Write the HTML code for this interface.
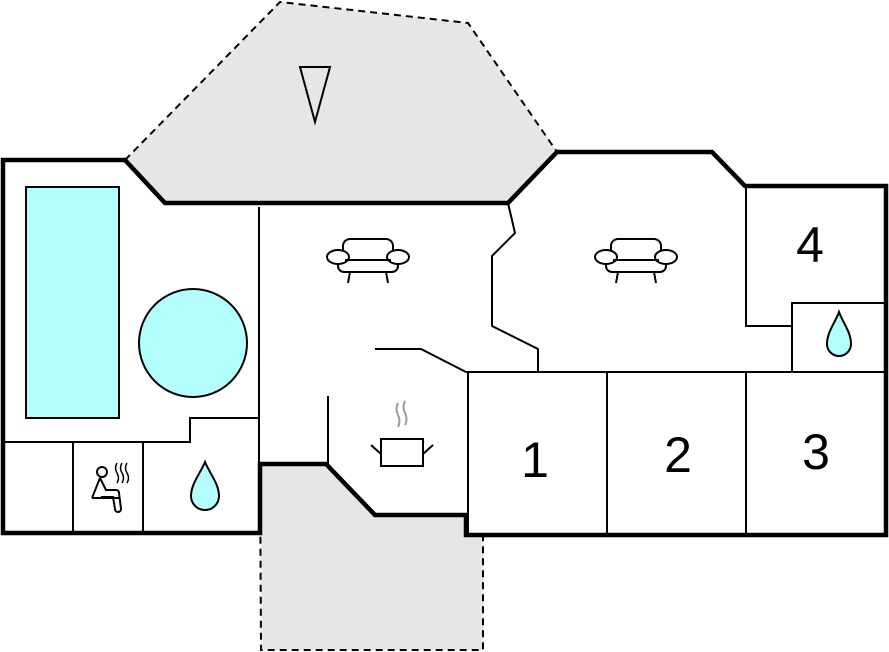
<!DOCTYPE html>
<html><head><style>body{margin:0;background:#fff}svg{display:block}</style></head><body>
<svg width="889" height="652" viewBox="0 0 889 652" xmlns="http://www.w3.org/2000/svg" font-family="Liberation Sans, sans-serif">
<polygon points="125,160 280,2 468,23 557,152 508,203 165,203" fill="#e6e6e6" stroke="#000" stroke-width="2" stroke-dasharray="7,5"/>
<polygon points="260,464 326,464 375,515 466,515 466,535 483,535 483,650 261,650" fill="#e6e6e6" stroke="#000" stroke-width="2" stroke-dasharray="7,5"/>
<polygon points="3,160 125,160 165,203 508,203 557,152 712,152 745,186 886,186 886,535 466,535 466,515 375,515 326,464 260,464 260,533 3,533" fill="#fff" stroke="none"/>
<g fill="none" stroke="#000" stroke-width="2">
<rect x="26" y="187" width="93" height="231" fill="#b3ffff"/>
<circle cx="193" cy="343" r="54" fill="#b3ffff"/>
<line x1="259" y1="207" x2="259" y2="464"/>
<polyline points="3,442 190,442 190,418 259,418"/>
<line x1="73" y1="442" x2="73" y2="533"/>
<line x1="143" y1="442" x2="143" y2="533"/>
<polyline points="375,349 421,349 466,372"/>
<line x1="468" y1="372" x2="468" y2="535"/>
<line x1="328" y1="396" x2="328" y2="464"/>
<polyline points="508,203 515,233 492,256 492,326 538,349 538,372"/>
<line x1="466" y1="372" x2="886" y2="372"/>
<line x1="607" y1="372" x2="607" y2="535"/>
<line x1="746" y1="372" x2="746" y2="535"/>
<polyline points="746,186 746,326 792,326"/>
<polyline points="792,372 792,303 886,303"/>
<polygon points="300,67 330,67 315,122"/>
</g>
<polygon points="3,160 125,160 165,203 508,203 557,152 712,152 745,186 886,186 886,535 466,535 466,515 375,515 326,464 260,464 260,533 3,533" fill="none" stroke="#000" stroke-width="4.5"/>
<g font-size="50" text-anchor="middle" fill="#000">
<text x="535" y="477">1</text><text x="678" y="472">2</text><text x="816" y="469">3</text><text x="810" y="262">4</text>
</g>
<g id="sofa" fill="#fff" stroke="#000" stroke-width="2">
<path d="M343,256 v-10 a7,7 0 0 1 7,-7 h36 a7,7 0 0 1 7,7 v10"/>
<rect x="338" y="260" width="60" height="12" rx="6"/>
<line x1="350" y1="272" x2="348" y2="283"/><line x1="386" y1="272" x2="388" y2="283"/>
<ellipse cx="338" cy="257" rx="11" ry="7"/><ellipse cx="398" cy="257" rx="11" ry="7"/>
<line x1="345" y1="260" x2="391" y2="260"/>
</g>
<use href="#sofa" x="268" y="0"/>
<g fill="none" stroke="#000" stroke-width="2">
<rect x="381" y="439" width="42" height="27" fill="#fff"/>
<line x1="371" y1="445" x2="381" y2="454"/><line x1="433" y1="445" x2="423" y2="454"/>
<line x1="92" y1="498" x2="120" y2="498"/>
<circle cx="102" cy="472" r="5"/>
<path d="M100,478 l-8,20 M100,478 l6,12 h10 a3,3 0 0 1 3,3 l2,16 a3,3 0 0 1 -6,0 l-2,-12 h-12"/>
<path d="M117,463 q-3,5 0,10 q3,5 0,10 M122,463 q-3,5 0,10 q3,5 0,10 M127,463 q-3,5 0,10 q3,5 0,10" stroke-width="1.5"/>
</g>
<path d="M398,403 q-3,6 0,12 q3,6 0,12 M405,401 q-3,6 0,12 q3,6 0,12" fill="none" stroke="#999" stroke-width="2"/>
<path d="M205,462 C200,474 191,484 191,496 a14,14 0 0 0 28,0 C219,484 210,474 205,462 z" fill="#b3ffff" stroke="#000" stroke-width="2"/>
<path d="M839,312 C835,323 827,332 827,344 a12,12 0 0 0 24,0 C851,332 843,323 839,312 z" fill="#b3ffff" stroke="#000" stroke-width="2"/>
</svg>
</body></html>
